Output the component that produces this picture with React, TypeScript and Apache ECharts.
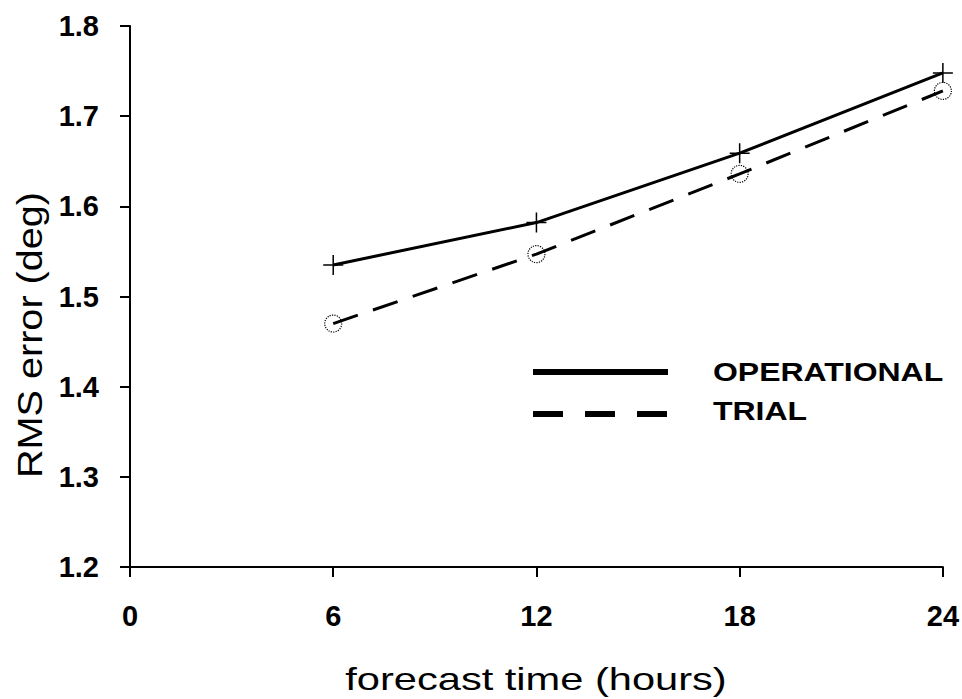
import React, { useEffect, useRef } from "react";
import * as echarts from "echarts";

const hours = [6, 12, 18, 24];
const operational = [1.535, 1.582, 1.659, 1.748];
const trial = [1.47, 1.547, 1.636, 1.728];
const seriesNames = ["OPERATIONAL", "TRIAL"];
const xTitle = "forecast time (hours)";
const yTitle = "RMS error (deg)";

const FONT = "'Liberation Sans', Arial, sans-serif";

export default function App() {
  const ref = useRef<HTMLDivElement>(null);
  useEffect(() => {
    if (!ref.current) return;
    const chart = echarts.init(ref.current, undefined, { renderer: "svg" });
    const axisCommon = {
      axisLine: { show: true, lineStyle: { color: "#000", width: 2 } },
      axisTick: { show: true, length: 10, lineStyle: { color: "#000", width: 2 } },
      splitLine: { show: false },
    };
    chart.setOption({
      animation: false,
      backgroundColor: "#fff",
      grid: { left: 130, top: 26, right: 16, bottom: 132, containLabel: false },
      xAxis: {
        type: "value",
        min: 0,
        max: 24,
        interval: 6,
        ...axisCommon,
        axisLabel: {
          margin: 34,
          color: "#000",
          fontSize: 29,
          fontWeight: "bold",
          fontFamily: FONT,
        },
      },
      yAxis: {
        type: "value",
        min: 1.2,
        max: 1.8,
        interval: 0.1,
        ...axisCommon,
        axisLabel: {
          margin: 31,
          color: "#000",
          fontSize: 29,
          fontWeight: "bold",
          fontFamily: FONT,
          formatter: (v: number) => v.toFixed(1),
        },
      },
      series: [
        {
          name: seriesNames[0],
          type: "line",
          data: hours.map((h, i) => [h, operational[i]]),
          lineStyle: { color: "#000", width: 3, type: "solid" },
          symbol: "path://M0,10L20,10M10,0L10,20",
          symbolSize: 20,
          showAllSymbol: true,
          itemStyle: { color: "transparent", borderColor: "#000", borderWidth: 1.5 },
          z: 3,
        },
        {
          name: seriesNames[1],
          type: "line",
          data: hours.map((h, i) => [h, trial[i]]),
          lineStyle: { color: "#000", width: 3, type: [26, 16] },
          symbol: "circle",
          symbolSize: 17,
          showAllSymbol: true,
          itemStyle: {
            color: "transparent",
            borderColor: "#000",
            borderWidth: 1.2,
            borderType: "dotted",
          },
          z: 2,
        },
      ],
      graphic: [
        {
          type: "line",
          shape: { x1: 533, y1: 372, x2: 668, y2: 372 },
          style: { stroke: "#000", lineWidth: 6 },
        },
        {
          type: "line",
          shape: { x1: 533, y1: 414, x2: 668, y2: 414 },
          style: { stroke: "#000", lineWidth: 6, lineDash: [30, 22] },
        },
        {
          type: "text",
          x: 713,
          y: 372,
          scaleX: 1.23,
          style: {
            text: seriesNames[0],
            fontSize: 26,
            fontWeight: "bold",
            fontFamily: FONT,
            fill: "#000",
            align: "left",
            verticalAlign: "middle",
          },
        },
        {
          type: "text",
          x: 713,
          y: 411,
          scaleX: 1.23,
          style: {
            text: seriesNames[1],
            fontSize: 26,
            fontWeight: "bold",
            fontFamily: FONT,
            fill: "#000",
            align: "left",
            verticalAlign: "middle",
          },
        },
        {
          type: "text",
          x: 536,
          y: 679,
          scaleX: 1.3,
          style: {
            text: xTitle,
            fontSize: 32,
            fontFamily: FONT,
            fill: "#000",
            align: "center",
            verticalAlign: "middle",
          },
        },
        {
          type: "text",
          x: 30,
          y: 335,
          rotation: Math.PI / 2,
          scaleX: 1.1,
          style: {
            text: yTitle,
            fontSize: 36,
            fontFamily: FONT,
            fill: "#000",
            align: "center",
            verticalAlign: "middle",
          },
        },
      ],
    });
    return () => chart.dispose();
  }, []);
  return (
    <div
      ref={ref}
      style={{ position: "fixed", left: 0, top: 0, width: 962, height: 699, background: "#fff" }}
    />
  );
}
